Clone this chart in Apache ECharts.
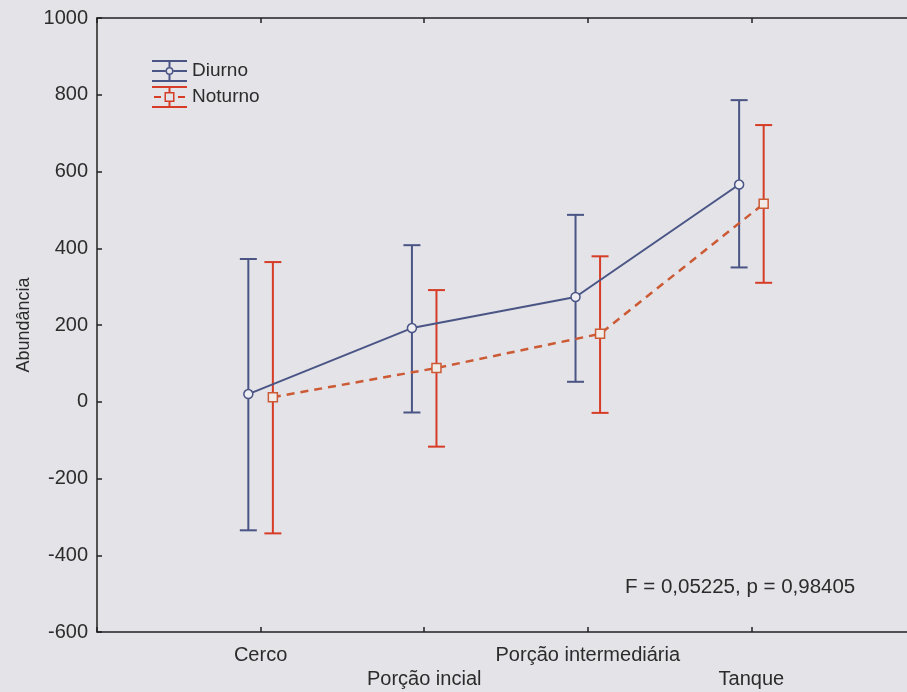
<!DOCTYPE html>
<html>
<head>
<meta charset="utf-8">
<script src="https://cdn.jsdelivr.net/npm/echarts@6/dist/echarts.min.js"></script>
<style>
html,body{margin:0;padding:0;background:#e3e3e8;}
#chart{width:907px;height:692px;}
</style>
</head>
<body>
<div id="chart"></div>
<script>
const categories = ['Cerco', 'Porção incial', 'Porção intermediária', 'Tanque'];
const yTicks = [-600, -400, -200, 0, 200, 400, 600, 800, 1000];
const diurnoMean = [20, 192, 273, 566];
const diurnoLow = [-335, -28, 52, 350];
const diurnoHigh = [372, 408, 487, 786];
const noturnoMean = [12, 88, 177, 516];
const noturnoLow = [-343, -117, -29, 310];
const noturnoHigh = [364, 291, 379, 721];
const statText = 'F = 0,05225, p = 0,98405';
const yName = 'Abundância';

const FONT = '"Liberation Sans", Arial, sans-serif';
const TXT = '#2c2c2c';
const BLUE = '#4a5585';
const RED = '#d63c26';
const REDLINE = '#cc5a34';
const OFF = 0.075;

function pts(means, off) { return means.map((m, i) => [i + 1 + off, m]); }
function errs(lo, hi, off) { return lo.map((l, i) => [i + 1 + off, l, hi[i]]); }

function errRender(color) {
  return function (params, api) {
    const x = api.value(0);
    const a = api.coord([x, api.value(1)]);
    const b = api.coord([x, api.value(2)]);
    const hw = 8.5;
    const st = { stroke: color, lineWidth: 2 };
    return {
      type: 'group',
      children: [
        { type: 'line', shape: { x1: a[0], y1: a[1], x2: b[0], y2: b[1] }, style: st },
        { type: 'line', shape: { x1: a[0] - hw, y1: a[1], x2: a[0] + hw, y2: a[1] }, style: st },
        { type: 'line', shape: { x1: b[0] - hw, y1: b[1], x2: b[0] + hw, y2: b[1] }, style: st }
      ]
    };
  };
}

const iconDiurno = 'path://M0 0h35v2h-35z M0 20h35v2h-35z M16.5 0h2v7h-2z M16.5 15h2v7h-2z M0 10h13.5v2h-13.5z M21.5 10h13.5v2h-13.5z ' +
  'M13.5 11A4 4 0 1 1 21.5 11A4 4 0 1 1 13.5 11Z M15 11A2.5 2.5 0 1 0 20 11A2.5 2.5 0 1 0 15 11Z';
const iconNoturno = 'path://M0 0h35v2h-35z M0 20h35v2h-35z M16.5 0h2v6h-2z M16.5 16h2v6h-2z M2 10h7v2h-7z M26 10h7v2h-7z ' +
  'M12.5 6h10v10h-10z M14 7.5v7h7v-7z';

const chart = echarts.init(document.getElementById('chart'), null, { renderer: 'canvas' });
chart.setOption({
  backgroundColor: '#e3e3e8',
  animation: false,
  textStyle: { fontFamily: FONT },
  grid: { left: 97, top: 18, width: 818, height: 614, outerBoundsMode: 'none', containLabel: false },
  legend: {
    orient: 'vertical', left: 147, top: 55, itemGap: 4,
    itemWidth: 35, itemHeight: 22, selectedMode: false,
    textStyle: { fontFamily: FONT, fontSize: 19, color: TXT },
    data: [
      { name: 'Diurno', icon: iconDiurno, itemStyle: { color: BLUE, borderWidth: 0 } },
      { name: 'Noturno', icon: iconNoturno, itemStyle: { color: RED, borderWidth: 0 } }
    ]
  },
  xAxis: [{
    type: 'value', min: 0, max: 5, interval: 1,
    axisLine: { show: true, onZero: false, lineStyle: { color: '#222', width: 1.5 } },
    axisTick: { show: true, inside: true, length: 5, lineStyle: { color: '#222', width: 1.5 } },
    splitLine: { show: false },
    axisLabel: {
      margin: 11, fontSize: 20, color: TXT, lineHeight: 24, fontFamily: FONT,
      formatter: function (v) {
        const i = Math.round(v) - 1;
        if (i < 0 || i >= categories.length || Math.abs(v - Math.round(v)) > 1e-6) return '';
        return i % 2 === 0 ? categories[i] : '\n' + categories[i];
      }
    }
  }, {
    type: 'value', position: 'top', min: 0, max: 5, interval: 1,
    axisLine: { show: true, onZero: false, lineStyle: { color: '#222', width: 1.5 } },
    axisTick: { show: true, inside: true, length: 5, lineStyle: { color: '#222', width: 1.5 } },
    splitLine: { show: false }, axisLabel: { show: false }
  }],
  yAxis: {
    type: 'value', min: yTicks[0], max: yTicks[yTicks.length - 1], interval: 200,
    name: yName, nameLocation: 'middle', nameGap: 64, nameRotate: 90,
    nameTextStyle: { fontFamily: FONT, fontSize: 18, color: TXT },
    axisLine: { show: true, onZero: false, lineStyle: { color: '#222', width: 1.5 } },
    axisTick: { show: true, inside: true, length: 5, lineStyle: { color: '#222', width: 1.5 } },
    splitLine: { show: false },
    axisLabel: { margin: 9, fontSize: 20, color: TXT, fontFamily: FONT, formatter: function (v) { return String(v); } }
  },
  graphic: [
    { type: 'text', x: 625, y: 587,
      style: { text: statText, font: '20.5px ' + FONT, fill: TXT, textAlign: 'left', textVerticalAlign: 'middle' } }
  ],
  series: [
    { name: 'Diurno_err', type: 'custom', renderItem: errRender(BLUE), data: errs(diurnoLow, diurnoHigh, -OFF), encode: { x: 0, y: [1, 2] }, z: 2 },
    { name: 'Noturno_err', type: 'custom', renderItem: errRender(RED), data: errs(noturnoLow, noturnoHigh, OFF), encode: { x: 0, y: [1, 2] }, z: 2 },
    { name: 'Diurno', type: 'line', data: pts(diurnoMean, -OFF), z: 3,
      lineStyle: { color: BLUE, width: 2 }, symbol: 'circle', symbolSize: 9,
      itemStyle: { color: '#eeeef2', borderColor: BLUE, borderWidth: 1.5 } },
    { name: 'Noturno', type: 'line', data: pts(noturnoMean, OFF), z: 3,
      lineStyle: { color: REDLINE, width: 2.5, type: [8, 6] }, symbol: 'rect', symbolSize: 9,
      itemStyle: { color: '#f2ece8', borderColor: REDLINE, borderWidth: 1.5 } }
  ]
});
</script>
</body>
</html>
